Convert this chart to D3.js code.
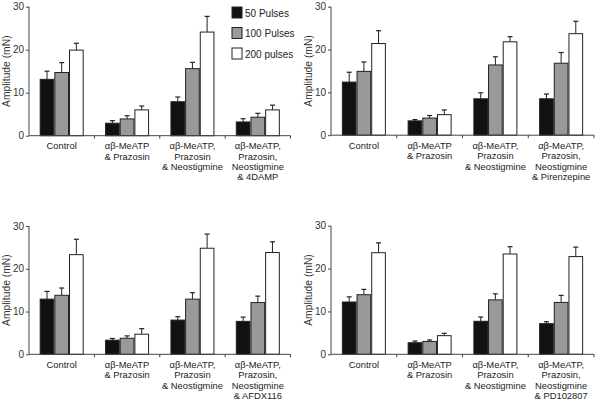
<!DOCTYPE html>
<html><head><meta charset="utf-8">
<script src="https://cdn.jsdelivr.net/npm/d3@7"></script>
<style>body{margin:0;background:#fff}svg{display:block;font-family:"Liberation Sans",Arial,Helvetica,sans-serif}</style>
</head><body><svg id="c" width="600" height="405"></svg>
<script>
const seriesNames = ["50 Pulses", "100 Pulses", "200 pulses"];
const seriesColors = ["#111111", "#999999", "#ffffff"];
const yTicks = [0, 10, 20, 30];
const catsA = [["Control"], ["αβ-MeATP", "& Prazosin"], ["αβ-MeATP,", "Prazosin", "& Neostigmine"], ["αβ-MeATP,", "Prazosin,", "Neostigmine", "& 4DAMP"]];
const catsB = [["Control"], ["αβ-MeATP", "& Prazosin"], ["αβ-MeATP,", "Prazosin", "& Neostigmine"], ["αβ-MeATP,", "Prazosin,", "Neostigmine", "& Pirenzepine"]];
const catsC = [["Control"], ["αβ-MeATP", "& Prazosin"], ["αβ-MeATP,", "Prazosin", "& Neostigmine"], ["αβ-MeATP,", "Prazosin,", "Neostigmine", "& AFDX116"]];
const catsD = [["Control"], ["αβ-MeATP", "& Prazosin"], ["αβ-MeATP,", "Prazosin", "& Neostigmine"], ["αβ-MeATP,", "Prazosin,", "Neostigmine", "& PD102807"]];
// values per group: [50, 100, 200]; errors are top of error bar
const valA = [[13.1, 14.7, 19.9], [2.9, 3.9, 6.0], [7.9, 15.6, 24.1], [3.2, 4.3, 6.0]];
const errA = [[15.0, 17.0, 21.5], [3.5, 4.65, 6.9], [9.0, 17.05, 27.75], [3.95, 5.2, 7.1]];
const valB = [[12.4, 14.9, 21.4], [3.35, 4.0, 4.8], [8.5, 16.4, 21.8], [8.5, 16.8, 23.7]];
const errB = [[14.7, 17.1, 24.4], [3.65, 4.6, 5.9], [9.9, 18.3, 23.0], [9.6, 19.3, 26.6]];
const valC = [[12.9, 13.8, 23.3], [3.3, 3.75, 4.7], [8.0, 12.9, 24.8], [7.7, 12.1, 23.8]];
const errC = [[14.7, 15.5, 26.9], [3.7, 4.3, 6.0], [8.8, 14.4, 28.1], [8.7, 13.6, 26.3]];
const valD = [[12.2, 13.9, 23.7], [2.7, 3.0, 4.35], [7.7, 12.7, 23.4], [7.15, 12.1, 22.8]];
const errD = [[13.4, 15.15, 26.0], [3.1, 3.35, 4.9], [8.7, 14.1, 25.1], [7.6, 13.75, 25.0]];

const svg = d3.select("#c");
const panels = [
  {x0: 29, x1: 290.5, yTop: 6.7, yBot: 135.7, cats: catsA, vals: valA, errs: errA, legend: true},
  {x0: 331, x1: 594, yTop: 6.7, yBot: 135.2, cats: catsB, vals: valB, errs: errB},
  {x0: 29, x1: 290.5, yTop: 226, yBot: 354.3, cats: catsC, vals: valC, errs: errC},
  {x0: 331, x1: 594, yTop: 225.7, yBot: 354.3, cats: catsD, vals: valD, errs: errD}
];
const axisCol = "#444";
panels.forEach(p => {
  const g = svg.append("g");
  const y = d3.scaleLinear().domain([0, 30]).range([p.yBot, p.yTop]);
  const x = d3.scaleBand().domain(d3.range(p.cats.length)).range([p.x0, p.x1]).paddingInner(0).paddingOuter(0);
  const bw = 44;
  const xi = d3.scaleBand().domain(d3.range(3)).range([0, bw]);
  // bars
  p.vals.forEach((vs, gi) => {
    const gx = x(gi) + (x.bandwidth() - bw) / 2;
    vs.forEach((v, si) => {
      const bx = gx + xi(si);
      const cx = bx + xi.bandwidth() / 2;
      const et = y(p.errs[gi][si]);
      g.append("line").attr("x1", cx).attr("x2", cx).attr("y1", y(v)).attr("y2", et).attr("stroke", "#222").attr("stroke-width", 1);
      g.append("line").attr("x1", cx - 2.5).attr("x2", cx + 2.5).attr("y1", et).attr("y2", et).attr("stroke", "#222").attr("stroke-width", 1.2);
      g.append("rect").attr("x", bx + 0.5).attr("y", y(v)).attr("width", xi.bandwidth() - 1).attr("height", y(0) - y(v))
        .attr("fill", seriesColors[si]).attr("stroke", "#222").attr("stroke-width", 1);
    });
  });
  // y axis
  const ya = d3.axisLeft(y).tickValues(yTicks).tickSize(3).tickPadding(2);
  const yg = g.append("g").attr("transform", `translate(${p.x0},0)`).call(ya);
  yg.select(".domain").attr("stroke", axisCol).attr("d", `M0,${p.yBot}V${p.yTop}`);
  yg.selectAll(".tick line").attr("stroke", axisCol);
  yg.selectAll(".tick text").attr("font-size", 10).attr("fill", "#333").attr("font-family", "Liberation Sans, Arial, sans-serif");
  // x axis
  g.append("line").attr("x1", p.x0).attr("x2", p.x1).attr("y1", p.yBot).attr("y2", p.yBot).attr("stroke", axisCol);
  d3.range(1, p.cats.length + 1).forEach(i => {
    const tx = i < p.cats.length ? x(i) : p.x1;
    g.append("line").attr("x1", tx).attr("x2", tx).attr("y1", p.yBot).attr("y2", p.yBot + 3).attr("stroke", axisCol);
  });
  // category labels
  p.cats.forEach((lines, gi) => {
    const cx = x(gi) + x.bandwidth() / 2;
    const t = g.append("text").attr("x", cx).attr("y", p.yBot + 13.5).attr("text-anchor", "middle").attr("font-size", 9.4).attr("fill", "#222");
    lines.forEach((l, li) => t.append("tspan").attr("x", cx).attr("dy", li === 0 ? 0 : 10.4).text(l));
  });
  // y title
  g.append("text").attr("transform", `translate(${p.x0 - 19},${(p.yTop + p.yBot) / 2}) rotate(-90)`)
    .attr("text-anchor", "middle").attr("font-size", 10.3).attr("fill", "#333").text("Amplitude (mN)");
  if (p.legend) {
    seriesNames.forEach((n, i) => {
      const ly = 7 + i * 20.5;
      g.append("rect").attr("x", 232).attr("y", ly).attr("width", 10).attr("height", 11).attr("fill", seriesColors[i]).attr("stroke", "#222");
      g.append("text").attr("x", 245).attr("y", ly + 9.5).attr("font-size", 10).attr("fill", "#222").text(n);
    });
  }
});
</script></body></html>
